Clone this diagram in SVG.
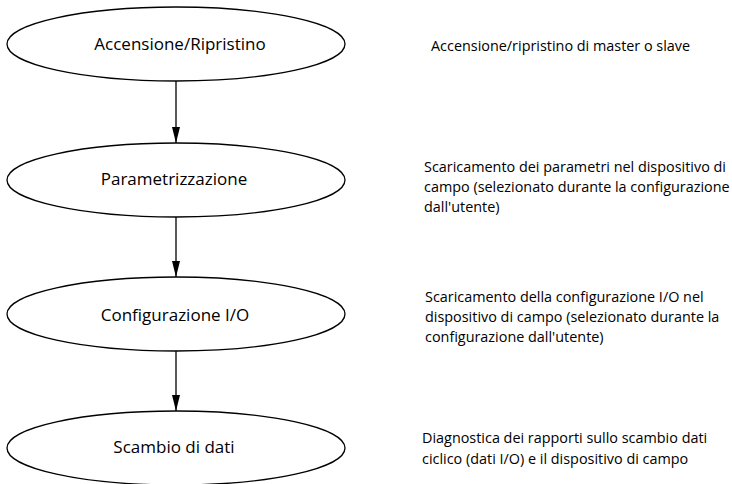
<svg xmlns="http://www.w3.org/2000/svg" width="732" height="484" viewBox="0 0 732 484">
<style>
.node ellipse{fill:#fff;stroke:#000;stroke-width:1.3}
.lbl{font-family:"Open Sans","Noto Sans",sans-serif;font-size:17px;fill:#000;text-anchor:middle}
.desc{font-family:"Open Sans","Noto Sans",sans-serif;font-size:14.4px;fill:#000}
.edge{stroke:#000;stroke-width:1.3;fill:none;marker-end:url(#ah)}
</style>
<defs>
<marker id="ah" markerWidth="16" markerHeight="8" refX="16" refY="4" orient="auto" markerUnits="userSpaceOnUse" viewBox="0 0 16 8">
<path d="M0,0 L16,4 L0,8 Z" fill="#000"/>
</marker>
</defs>
<rect width="732" height="484" fill="#fff"/>
<g id="connectors">
<path class="edge" d="M176,81 L176,143"/>
<path class="edge" d="M176,217 L176,277"/>
<path class="edge" d="M176,351 L176,411"/>
</g>
<g id="n1" class="node">
<ellipse cx="176" cy="44" rx="169" ry="37"/>
<text class="lbl" x="180" y="50">Accensione/Ripristino</text>
</g>
<g id="n2" class="node">
<ellipse cx="176" cy="180" rx="169" ry="37"/>
<text class="lbl" x="174" y="185">Parametrizzazione</text>
</g>
<g id="n3" class="node">
<ellipse cx="176" cy="314" rx="169" ry="37"/>
<text class="lbl" x="175" y="321">Configurazione I/O</text>
</g>
<g id="n4" class="node">
<ellipse cx="176" cy="448" rx="169" ry="37"/>
<text class="lbl" x="174" y="453">Scambio di dati</text>
</g>
<g id="d1">
<text class="desc" x="431" y="51">Accensione/ripristino di master o slave</text>
</g>
<g id="d2">
<text class="desc" x="424" y="172">Scaricamento dei parametri nel dispositivo di</text>
<text class="desc" x="424" y="192">campo (selezionato durante la configurazione</text>
<text class="desc" x="424" y="212">dall'utente)</text>
</g>
<g id="d3">
<text class="desc" x="425" y="302">Scaricamento della configurazione I/O nel</text>
<text class="desc" x="425" y="322">dispositivo di campo (selezionato durante la</text>
<text class="desc" x="425" y="342">configurazione dall'utente)</text>
</g>
<g id="d4">
<text class="desc" x="422" y="443">Diagnostica dei rapporti sullo scambio dati</text>
<text class="desc" x="422" y="464">ciclico (dati I/O) e il dispositivo di campo</text>
</g>
</svg>
